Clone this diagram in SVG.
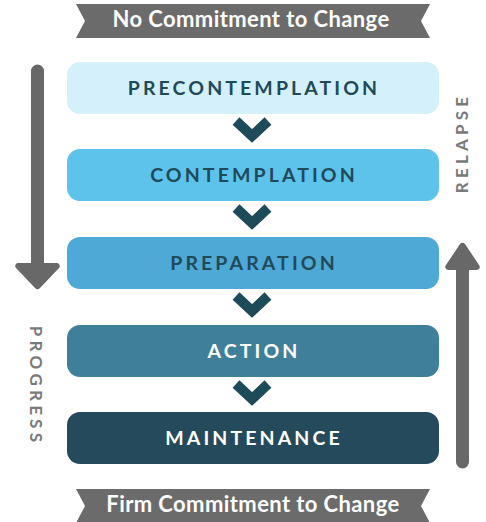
<svg xmlns="http://www.w3.org/2000/svg" width="486" height="522" viewBox="0 0 486 522">
  <style>
    .banner { fill: #6b6b6b; }
    .banner-text { font-family: Lato, "Open Sans", sans-serif; font-weight: 700; font-size: 22px; letter-spacing: 0.4px; fill: #ffffff; text-anchor: middle; }
    .stage-text { font-family: Lato, "Open Sans", sans-serif; font-weight: 700; font-size: 19.5px; letter-spacing: 3.1px; text-anchor: middle; }
    .side-text { font-family: Lato, "Open Sans", sans-serif; font-weight: 700; font-size: 17px; letter-spacing: 4.2px; fill: #7a7a7a; text-anchor: middle; }
    .big-arrow { fill: #686868; }
    .chevron { fill: none; stroke: #1f4a5a; stroke-width: 10; stroke-linecap: butt; stroke-linejoin: miter; }
  </style>

  <!-- top ribbon -->
  <g id="banner-top">
    <polygon class="banner" points="76,4 430,4 421,21 430,38 76,38 85,21"/>
    <text class="banner-text" x="251" y="27">No Commitment to Change</text>
  </g>

  <!-- stages -->
  <g id="precontemplation">
    <rect x="67" y="62" width="372" height="52" rx="13" fill="#d4f1fb"/>
    <text class="stage-text" x="254" y="95" fill="#1f4a5a">PRECONTEMPLATION</text>
  </g>
  <g id="contemplation">
    <rect x="67" y="149" width="372" height="52" rx="13" fill="#5dc3eb"/>
    <text class="stage-text" x="254" y="182" fill="#1f4a5a">CONTEMPLATION</text>
  </g>
  <g id="preparation">
    <rect x="67" y="237" width="372" height="52" rx="13" fill="#4fa9d6"/>
    <text class="stage-text" x="254" y="270" fill="#1f4a5a">PREPARATION</text>
  </g>
  <g id="action">
    <rect x="67" y="325" width="372" height="52" rx="13" fill="#3f7f9a"/>
    <text class="stage-text" x="254" y="358" fill="#ffffff">ACTION</text>
  </g>
  <g id="maintenance">
    <rect x="67" y="412" width="372" height="52" rx="13" fill="#254a5b"/>
    <text class="stage-text" x="254" y="445" fill="#ffffff">MAINTENANCE</text>
  </g>

  <!-- chevrons between stages -->
  <g id="connectors">
    <polyline class="chevron" points="236,121 252,136 268,121"/>
    <polyline class="chevron" points="236,208 252,223 268,208"/>
    <polyline class="chevron" points="236,296 252,311 268,296"/>
    <polyline class="chevron" points="236,384 252,399 268,384"/>
  </g>

  <!-- progress arrow (down) -->
  <g id="progress">
    <path class="big-arrow" d="M31,71 a6.5,6.5 0 0 1 13,0 V263 H57 a3,3 0 0 1 2,5 L40,288 a3.5,3.5 0 0 1 -5,0 L16,268 a3,3 0 0 1 2,-5 H31 Z"/>
    <text class="side-text" transform="translate(30,386) rotate(90)">PROGRESS</text>
  </g>

  <!-- relapse arrow (up) -->
  <g id="relapse">
    <path class="big-arrow" d="M456,462 a6.5,6.5 0 0 0 13,0 V270 H477 a3,3 0 0 0 2,-5 L465,244 a3.5,3.5 0 0 0 -5,0 L446,265 a3,3 0 0 0 2,5 H456 Z"/>
    <text class="side-text" transform="translate(468,143) rotate(-90)">RELAPSE</text>
  </g>

  <!-- bottom ribbon -->
  <g id="banner-bottom">
    <polygon class="banner" points="76,489 430,489 421,506 430,523 76,523 85,506"/>
    <text class="banner-text" x="253" y="512">Firm Commitment to Change</text>
  </g>
</svg>
